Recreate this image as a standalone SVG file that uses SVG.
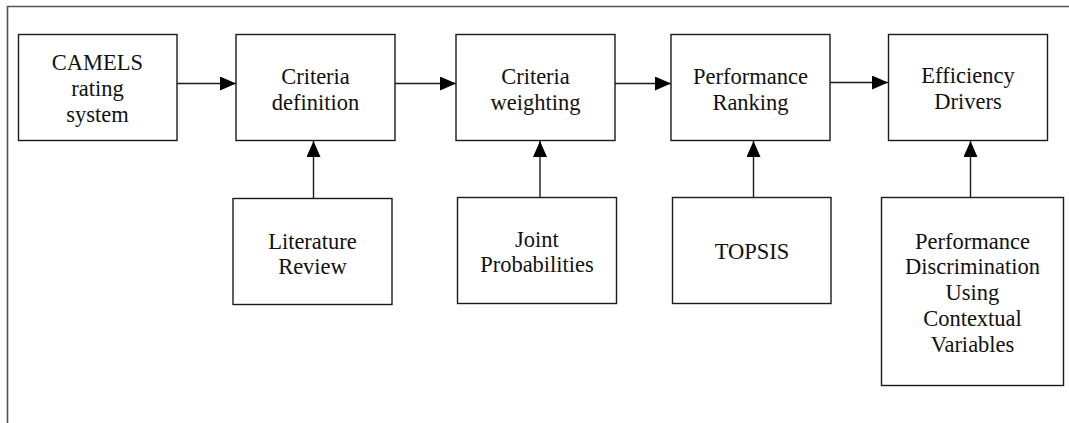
<svg xmlns="http://www.w3.org/2000/svg" width="1069" height="423" viewBox="0 0 1069 423">
<style>
.box{fill:#fff;stroke:#1a1a1a;stroke-width:1.4}
.t{font-family:'Liberation Serif','Times New Roman','DejaVu Serif',serif;font-size:22.5px;fill:#111;text-anchor:middle}
.c{stroke:#1a1a1a;stroke-width:1.4;fill:none}
.frame{stroke:#555;stroke-width:1.6;fill:none}
</style>
<defs>
<marker id="ah" markerWidth="16" markerHeight="14" refX="16" refY="7" orient="auto" markerUnits="userSpaceOnUse">
<path d="M0,0 L16,7 L0,14 Z" fill="#000"/>
</marker>
</defs>
<rect width="1069" height="423" fill="#fff"/>
<path class="frame" d="M7.5,423 L7.5,6.5 L1069,6.5"/>
<g id="connectors">
<line class="c" x1="177" y1="83.5" x2="236" y2="83.5" marker-end="url(#ah)"/>
<line class="c" x1="395" y1="83.5" x2="456" y2="83.5" marker-end="url(#ah)"/>
<line class="c" x1="615" y1="83.5" x2="671" y2="83.5" marker-end="url(#ah)"/>
<line class="c" x1="830" y1="82.5" x2="888" y2="82.5" marker-end="url(#ah)"/>
<line class="c" x1="313.5" y1="198" x2="313.5" y2="141" marker-end="url(#ah)"/>
<line class="c" x1="540" y1="197" x2="540" y2="141" marker-end="url(#ah)"/>
<line class="c" x1="753.5" y1="197" x2="753.5" y2="141" marker-end="url(#ah)"/>
<line class="c" x1="970.5" y1="197" x2="970.5" y2="141" marker-end="url(#ah)"/>
</g>
<g id="camels">
<rect class="box" x="18.5" y="34.5" width="158.5" height="106"/>
<text class="t" font-family="Liberation Serif, serif" x="97.5" y="69.5">CAMELS</text>
<text class="t" x="97.5" y="95.5">rating</text>
<text class="t" x="97.5" y="121.5">system</text>
</g>
<g id="criteria-definition">
<rect class="box" x="236" y="34.5" width="159" height="106"/>
<text class="t" x="315.5" y="83.5">Criteria</text>
<text class="t" x="315.5" y="109.5">definition</text>
</g>
<g id="criteria-weighting">
<rect class="box" x="456" y="34.5" width="159" height="106"/>
<text class="t" x="535.5" y="83.5">Criteria</text>
<text class="t" x="535.5" y="109.5">weighting</text>
</g>
<g id="performance-ranking">
<rect class="box" x="671" y="34.5" width="159" height="106"/>
<text class="t" x="750.5" y="83.5">Performance</text>
<text class="t" x="750.5" y="109.5">Ranking</text>
</g>
<g id="efficiency-drivers">
<rect class="box" x="888.5" y="34.5" width="159" height="106"/>
<text class="t" x="968" y="83">Efficiency</text>
<text class="t" x="968" y="109">Drivers</text>
</g>
<g id="literature-review">
<rect class="box" x="233" y="198.5" width="159" height="106"/>
<text class="t" x="312.5" y="248.5">Literature</text>
<text class="t" x="312.5" y="274">Review</text>
</g>
<g id="joint-probabilities">
<rect class="box" x="457.5" y="197.5" width="159" height="106"/>
<text class="t" x="537" y="246.5">Joint</text>
<text class="t" x="537" y="272">Probabilities</text>
</g>
<g id="topsis">
<rect class="box" x="672.5" y="197.5" width="158.5" height="106"/>
<text class="t" x="752" y="259">TOPSIS</text>
</g>
<g id="performance-discrimination">
<rect class="box" x="881.5" y="197.5" width="182" height="188"/>
<text class="t" x="972.5" y="248.5">Performance</text>
<text class="t" x="972.5" y="274.3">Discrimination</text>
<text class="t" x="972.5" y="300.1">Using</text>
<text class="t" x="972.5" y="325.9">Contextual</text>
<text class="t" x="972.5" y="351.7">Variables</text>
</g>
</svg>
